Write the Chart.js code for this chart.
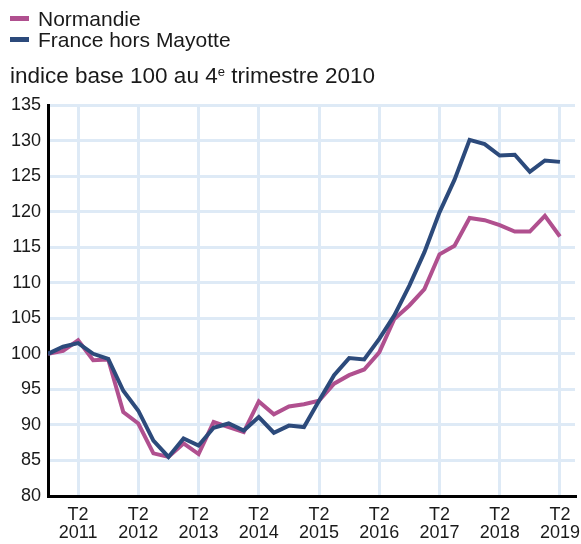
<!DOCTYPE html>
<html>
<head>
<meta charset="utf-8">
<script src="https://cdn.jsdelivr.net/npm/chart.js@4/dist/chart.umd.min.js"></script>
<style>
  body { margin: 0; background: #fff; font-family: "Liberation Sans", Arial, sans-serif; color: #1a1a1a; }
  #wrap { position: relative; width: 581px; height: 544px; }
  canvas { position: absolute; left: 0; top: 0; }
  .leg { position: absolute; left: 10px; font-size: 21px; line-height: 21px; white-space: nowrap; }
  .leg span { display: inline-block; width: 19px; height: 5px; margin-right: 9px; vertical-align: middle; position: relative; top: -2px; }
  #title { position: absolute; left: 10px; top: 65px; font-size: 22.5px; line-height: 22px; white-space: nowrap; }
  #title sup { font-size: 13px; vertical-align: 7px; line-height: 0; }
</style>
</head>
<body>
<div id="wrap">
  <canvas id="chart" width="581" height="544"></canvas>
  <div class="leg" style="top:8px"><span style="background:#b0508f"></span>Normandie</div>
  <div class="leg" style="top:29px"><span style="background:#2c4a7b"></span>France hors Mayotte</div>
  <div id="title">indice base 100 au 4<sup>e</sup> trimestre 2010</div>
</div>
<script>
// quarters, from T4 2010 to T2 2019
const quarters = [
  "T4 2010",
  "T1 2011", "T2 2011", "T3 2011", "T4 2011",
  "T1 2012", "T2 2012", "T3 2012", "T4 2012",
  "T1 2013", "T2 2013", "T3 2013", "T4 2013",
  "T1 2014", "T2 2014", "T3 2014", "T4 2014",
  "T1 2015", "T2 2015", "T3 2015", "T4 2015",
  "T1 2016", "T2 2016", "T3 2016", "T4 2016",
  "T1 2017", "T2 2017", "T3 2017", "T4 2017",
  "T1 2018", "T2 2018", "T3 2018", "T4 2018",
  "T1 2019", "T2 2019"
];

const normandie = [
  100.0,
  100.4, 101.9, 99.1, 99.2,
  91.8, 90.2, 86.0, 85.5,
  87.4, 85.9, 90.4, 89.7,
  89.0, 93.3, 91.5, 92.6,
  92.9, 93.4, 95.8, 97.0,
  97.8, 100.2, 104.9, 106.8,
  109.1, 114.0, 115.2, 119.1,
  118.8, 118.1, 117.2, 117.2,
  119.4, 116.5
];

const france = [
  100.0,
  101.0, 101.5, 100.0, 99.3,
  94.8, 92.0, 87.8, 85.5,
  88.1, 87.1, 89.6, 90.2,
  89.2, 91.1, 88.9, 89.9,
  89.7, 93.4, 97.0, 99.4,
  99.2, 102.1, 105.4, 109.6,
  114.3, 119.9, 124.5, 130.1,
  129.5, 127.9, 128.0, 125.6,
  127.2, 127.0
];

// labelled quarter on the x axis
const tickQuarter = "T2";
const yMin = 80, yMax = 135, yStep = 5;

const toPoints = (arr) => arr.map((v, i) => ({ x: i, y: v }));
const fontFamily = "'Liberation Sans', Arial, sans-serif";

new Chart(document.getElementById("chart"), {
  type: "line",
  data: {
    datasets: [
      {
        label: "France hors Mayotte",
        data: toPoints(france),
        borderColor: "#2c4a7b",
        borderWidth: 4,
        pointRadius: 0,
        tension: 0,
        fill: false
      },
      {
        label: "Normandie",
        data: toPoints(normandie),
        borderColor: "#b0508f",
        borderWidth: 4,
        pointRadius: 0,
        tension: 0,
        fill: false
      }
    ]
  },
  options: {
    responsive: false,
    animation: false,
    layout: { padding: { top: 105, right: 6, left: 0, bottom: 0 } },
    plugins: { legend: { display: false }, tooltip: { enabled: false } },
    scales: {
      x: {
        type: "linear",
        min: 0,
        max: 35,
        afterBuildTicks: (scale) => {
          scale.ticks = quarters
            .map((q, i) => ({ value: i, q: q }))
            .filter((t) => t.q.startsWith(tickQuarter))
            .map((t) => ({ value: t.value }));
        },
        afterFit: (scale) => {
          scale.height = 48;
          scale.paddingLeft = 0;
          scale.paddingRight = 0;
        },
        grid: { color: "#deeaf6", lineWidth: 3, drawTicks: false },
        border: { color: "#000", width: 3 },
        ticks: {
          padding: 10,
          maxRotation: 0,
          autoSkip: false,
          color: "#1a1a1a",
          font: { family: fontFamily, size: 18, lineHeight: 1.0 },
          callback: (v) => quarters[v].split(" ")
        }
      },
      y: {
        min: yMin,
        max: yMax,
        afterFit: (scale) => { scale.width = 48; },
        grid: { color: "#deeaf6", lineWidth: 3, drawTicks: false },
        border: { color: "#000", width: 3 },
        ticks: {
          stepSize: yStep,
          padding: 7,
          color: "#1a1a1a",
          font: { family: fontFamily, size: 18 }
        }
      }
    }
  }
});
</script>
</body>
</html>
